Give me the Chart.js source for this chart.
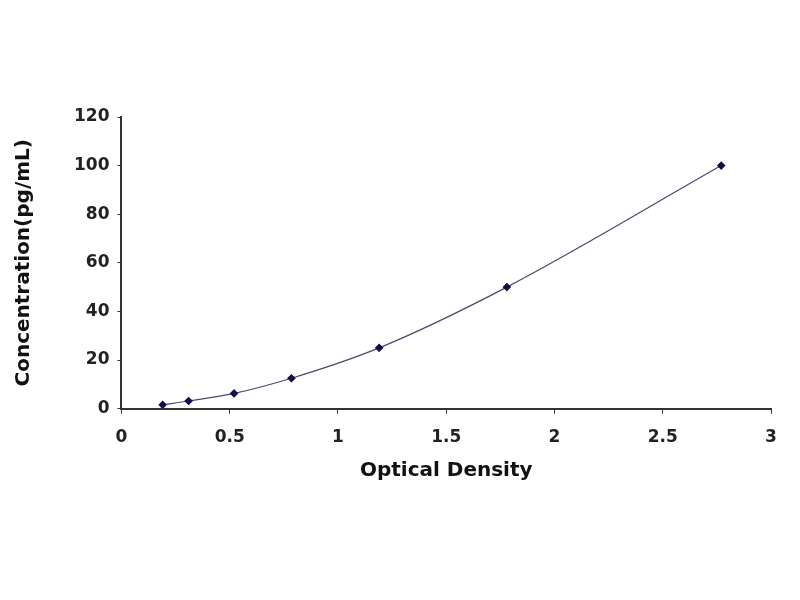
<!DOCTYPE html>
<html>
<head>
<meta charset="utf-8">
<script src="https://cdn.jsdelivr.net/npm/chart.js@4"></script>
<style>
  html, body { margin: 0; padding: 0; background: #fff; }
  #wrap { width: 800px; height: 600px; }
</style>
</head>
<body>
<div id="wrap"><canvas id="curva"></canvas></div>
<script>
const densidadOptica = [0.19, 0.31, 0.52, 0.785, 1.19, 1.78, 2.77];
const concentracion = [1.56, 3.12, 6.25, 12.5, 25, 50, 100];
const ticksX = [0, 0.5, 1, 1.5, 2, 2.5, 3];
const ticksY = [0, 20, 40, 60, 80, 100, 120];

const puntos = densidadOptica.map((x, i) => ({ x: x, y: concentracion[i] }));

const fuente = "'DejaVu Sans', Arial, sans-serif";

const ctx = document.getElementById("curva").getContext("2d");
const chart = new Chart(ctx, {
  type: "scatter",
  data: {
    datasets: [{
      label: "Standard",
      data: puntos,
      showLine: true,
      cubicInterpolationMode: "monotone",
      borderColor: "#4a4a6a",
      borderWidth: 1.2,
      pointStyle: "rectRot",
      pointRadius: 3.5,
      pointBackgroundColor: "#10104a",
      pointBorderColor: "#10104a"
    }]
  },
  options: {
    responsive: true,
    maintainAspectRatio: false,
    animation: false,
    layout: { padding: { top: 117, right: 29, bottom: 113, left: 8 } },
    plugins: {
      legend: { display: false },
      tooltip: { enabled: false }
    },
    scales: {
      x: {
        type: "linear",
        min: 0,
        max: 3,
        afterBuildTicks: (axis) => { axis.ticks = ticksX.map(v => ({ value: v })); },
        ticks: {
          color: "#222",
          font: { family: fuente, size: 17, weight: "bold" },
          padding: 14,
          callback: (v) => String(v)
        },
        grid: { drawOnChartArea: false, tickLength: 5, color: "#333" },
        border: { color: "#333", width: 2 },
        title: {
          display: true,
          text: "Optical Density",
          color: "#111",
          font: { family: fuente, size: 20, weight: "bold" },
          padding: { top: -3 }
        }
      },
      y: {
        type: "linear",
        min: 0,
        max: 120,
        afterBuildTicks: (axis) => { axis.ticks = ticksY.map(v => ({ value: v })); },
        ticks: {
          color: "#222",
          font: { family: fuente, size: 17, weight: "bold" },
          padding: 8,
          callback: (v) => String(v)
        },
        grid: { drawOnChartArea: false, tickLength: 4, color: "#333" },
        border: { color: "#333", width: 2 },
        title: {
          display: true,
          text: "Concentration(pg/mL)",
          color: "#111",
          font: { family: fuente, size: 20, weight: "bold" },
          padding: { bottom: 30 }
        }
      }
    }
  }
});
</script>
</body>
</html>
